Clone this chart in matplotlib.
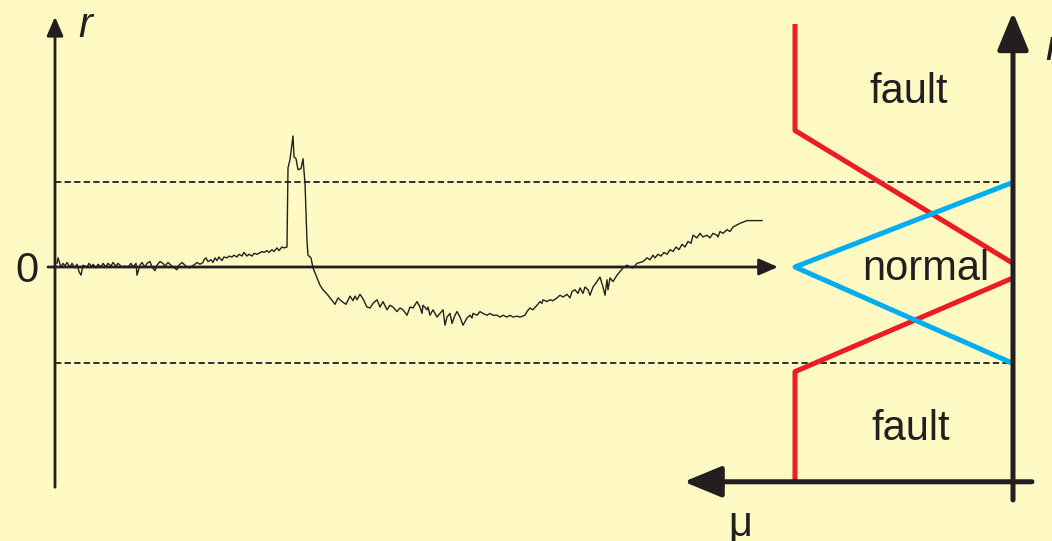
import numpy as np
import matplotlib
matplotlib.use('Agg')
import matplotlib.pyplot as plt

plt.rcParams['font.family'] = ['Liberation Sans', 'DejaVu Sans']

# residual signal r(t), t in samples
t = [2, 3, 6, 8, 10, 12, 15, 17, 20, 22, 24, 26, 28, 32, 34, 37, 38, 41, 43, 46,
     48, 51, 53, 56, 58, 61, 63, 67, 70, 73, 76, 78, 81, 82, 85, 87, 90, 92, 95, 97,
     100, 102, 105, 108, 110, 113, 116, 118, 122, 124, 127, 129, 132, 134, 137, 140,
     142, 145, 148, 149, 151, 153, 156, 158, 160, 162, 164, 167, 169, 172, 174, 177,
     179, 182, 184, 187, 189, 192, 194, 197, 199, 202, 204, 207, 209, 212, 214, 217,
     219, 222, 224, 227, 229, 232,
     233, 235, 238, 239, 241, 243, 246, 248, 250, 251, 252, 253, 256, 258, 262, 265,
     268, 273, 278, 280, 283, 287, 291, 295, 298, 300, 302, 305, 308, 312,
     315, 318, 322, 325, 328, 332, 335, 338, 342, 345, 348, 352, 355, 358, 362, 365,
     367, 368, 372, 373, 375, 378, 382, 385, 388, 390, 392, 395, 397, 400, 402, 405,
     408, 412, 415, 417, 418, 422, 425, 428, 432, 435, 438, 442, 445, 448, 452, 455,
     458, 462, 465, 470, 472, 475, 478, 482, 485, 487, 488, 492, 495, 498, 502, 505,
     508, 512, 515, 517, 520, 523, 525, 528, 530, 533, 535, 538, 542, 545, 548, 550,
     552, 553, 555, 558, 562, 565, 568, 572, 575, 578, 582, 585, 588, 592, 595, 598,
     600, 603, 606, 609, 612, 615, 618, 621, 624, 627, 630, 633, 636, 638, 642, 645,
     648, 652, 655, 658, 662, 663, 665, 668, 672, 675, 678, 685, 692, 707]
r = [0.04, 0.10, 0.00, 0.04, 0.01, 0.05, 0.00, 0.04, -0.01, 0.03, -0.05, -0.09, 0.02,
     0.00, 0.04, 0.00, 0.03, -0.01, 0.03, 0.00, 0.04, 0.00, 0.04, 0.01, 0.05, 0.01,
     0.04, 0.00, 0.01, 0.00, 0.04, 0.00, 0.04, -0.09, 0.02, 0.05, 0.00, 0.04, 0.06,
     0.00, -0.04, 0.02, 0.06, 0.04, 0.01, 0.05, 0.02, 0.00, -0.03, 0.02, 0.05, 0.03,
     0.00, -0.01, 0.01, 0.03, 0.05, 0.03, 0.05, 0.08, 0.10, 0.06, 0.08, 0.05, 0.10,
     0.07, 0.11, 0.07, 0.11, 0.10, 0.12, 0.11, 0.13, 0.11, 0.14, 0.12, 0.16, 0.12,
     0.14, 0.12, 0.15, 0.14, 0.15, 0.17, 0.16, 0.18, 0.16, 0.19, 0.17, 0.21, 0.18,
     0.22, 0.21, 0.22,
     1.09, 1.18, 1.44, 1.21, 1.19, 1.07, 1.08, 1.19, 0.92, 0.61, 0.28, 0.13, 0.10,
     -0.01, -0.12, -0.20, -0.25, -0.31, -0.38, -0.41, -0.34, -0.38, -0.41, -0.32,
     -0.37, -0.32, -0.36, -0.30, -0.35, -0.44,
     -0.45, -0.40, -0.36, -0.44, -0.38, -0.47, -0.42, -0.44, -0.49, -0.45, -0.47,
     -0.53, -0.44, -0.45, -0.38, -0.44, -0.51, -0.42, -0.47, -0.44, -0.53, -0.47,
     -0.55, -0.51, -0.47, -0.64, -0.55, -0.51, -0.62, -0.53, -0.49, -0.55, -0.64,
     -0.56, -0.53, -0.56, -0.51, -0.53, -0.49, -0.51, -0.53, -0.51, -0.53, -0.53,
     -0.55, -0.53, -0.55, -0.53, -0.55, -0.54, -0.55, -0.53, -0.49, -0.45, -0.47,
     -0.42, -0.38, -0.40, -0.36, -0.38, -0.36, -0.37, -0.34, -0.31, -0.33, -0.30,
     -0.34, -0.27, -0.25, -0.29, -0.23, -0.29, -0.22, -0.25, -0.31, -0.22, -0.16,
     -0.11, -0.22, -0.31, -0.14, -0.25, -0.12, -0.16, -0.09, -0.05, -0.01, 0.02,
     0.00, -0.01, 0.04, 0.05, 0.06, 0.10, 0.08, 0.13, 0.10, 0.14, 0.12, 0.16, 0.14,
     0.19, 0.17, 0.22, 0.19, 0.25, 0.22, 0.28, 0.26, 0.35, 0.32, 0.37, 0.33, 0.35,
     0.32, 0.37, 0.35, 0.33, 0.39, 0.37, 0.41, 0.39, 0.44, 0.48, 0.51, 0.51]

# thresholds
thr_hi = 0.93
thr_lo = -1.06

# membership functions (r, mu)
fault_hi_r = [2.67, 1.50, 0.04]
fault_hi_mu = [1, 1, 0]
fault_lo_r = [-0.12, -1.15, -2.34]
fault_lo_mu = [0, 1, 1]
normal_r = [thr_hi, 0.0, thr_lo]
normal_mu = [0, 1, 0]

bg = '#FFF9C4'
ink = '#231F20'
red = '#ED1C24'
blue = '#00AEEF'

fig = plt.figure(figsize=(10.52, 5.41), dpi=100, facecolor=bg)
ax = fig.add_axes([0, 0, 1, 1])
ax.set_xlim(-55, 997)
ax.set_ylim(-274 / 91, 267 / 91)
ax.axis('off')

ax2 = fig.add_axes([0, 0, 1, 1], sharey=ax)
ax2.set_xlim(1013 / 218, -39 / 218)
ax2.axis('off')
ax2.patch.set_alpha(0)

# left axes arrows
thin = dict(arrowstyle='-|>,head_length=1.15,head_width=0.5', mutation_scale=10,
            lw=2.0, color=ink, shrinkA=0, shrinkB=0)
ax.annotate('', xy=(0, 2.75), xytext=(0, -2.42), arrowprops=thin)
ax.annotate('', xy=(723, 0), xytext=(-7, 0), arrowprops=thin)

# thresholds
ax.plot([0, 945], [thr_hi, thr_hi], color=ink, lw=1.3, dashes=(3.5, 1.8))
ax.plot([0, 957], [thr_lo, thr_lo], color=ink, lw=1.3, dashes=(3.5, 1.8))

ax.plot(t, r, color=ink, lw=1.0)

ax.text(23, 2.53, 'r', fontsize=30, style='italic', color=ink, ha='left', va='baseline')
ax.text(-28, -0.16, '0', fontsize=30, color=ink, ha='center', va='baseline')

# right panel
ax2.plot(fault_hi_mu, fault_hi_r, color=red, lw=3.6, solid_capstyle='butt')
ax2.plot(fault_lo_mu, fault_lo_r, color=red, lw=3.6, solid_capstyle='butt')
ax2.plot(normal_mu, normal_r, color=blue, lw=3.6, solid_capstyle='butt')

thick = dict(arrowstyle='-|>,head_length=2.3,head_width=0.95', mutation_scale=10,
             lw=3.6, color=ink, shrinkA=0, shrinkB=0)
ax2.annotate('', xy=(0, 2.80), xytext=(0, -2.56), arrowprops=thick)
ax2.annotate('', xy=(1.51, -2.36), xytext=(-0.087, -2.36), arrowprops=thick)

ax2.text(0.48, 1.80, 'fault', fontsize=30, color=ink, ha='center', va='baseline')
ax2.text(0.40, -0.14, 'normal', fontsize=30, color=ink, ha='center', va='baseline')
ax2.text(0.47, -1.90, 'fault', fontsize=30, color=ink, ha='center', va='baseline')
ax2.text(1.25, -2.96, 'μ', fontsize=30, color=ink, ha='center', va='baseline')
ax2.text(-0.147, 2.27, 'r', fontsize=30, style='italic', color=ink, ha='left', va='baseline')

fig.savefig('out.png', dpi=100, facecolor=bg)
